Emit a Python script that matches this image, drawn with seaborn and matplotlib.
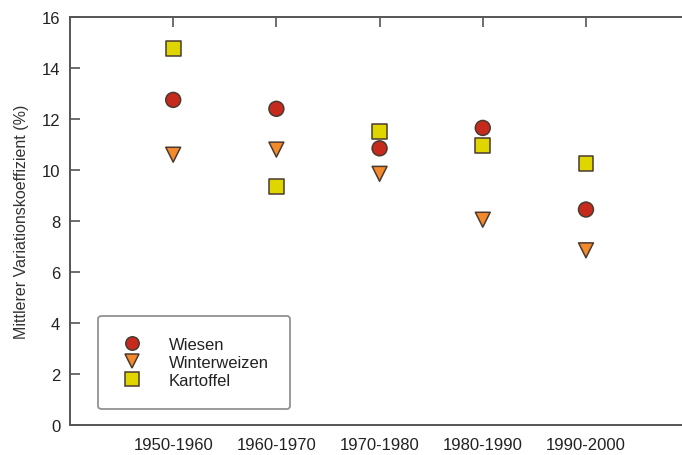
import pandas as pd
import seaborn as sns
import matplotlib.pyplot as plt

# decades on the x axis
decades = ['1950-1960', '1960-1970', '1970-1980', '1980-1990', '1990-2000']

# mean coefficient of variation (%) per crop
wiesen = [12.75, 12.4, 10.85, 11.65, 8.45]
winterweizen = [10.6, 10.8, 9.85, 8.05, 6.85]
kartoffel = [14.75, 9.35, 11.5, 10.95, 10.25]

crops = ['Wiesen', 'Winterweizen', 'Kartoffel']
colors = {'Wiesen': '#c62a1c', 'Winterweizen': '#f28a2c', 'Kartoffel': '#dfd600'}
markers = {'Wiesen': 'o', 'Winterweizen': 'v', 'Kartoffel': 's'}

df = pd.DataFrame({
    'pos': list(range(1, 6)) * 3,
    'wert': wiesen + winterweizen + kartoffel,
    'kultur': ['Wiesen'] * 5 + ['Winterweizen'] * 5 + ['Kartoffel'] * 5,
})

sns.set_style('white')
plt.rcParams['font.family'] = ['Liberation Sans', 'DejaVu Sans']

fig = plt.figure(figsize=(6.82, 4.56), dpi=100)
ax = fig.add_axes([70 / 682, 30 / 456, 614 / 682, 408 / 456])

sns.scatterplot(data=df, x='pos', y='wert', hue='kultur', style='kultur',
                hue_order=crops, style_order=crops, palette=colors,
                markers=markers, s=115, edgecolor='#4a3a30', linewidth=1.1,
                ax=ax, zorder=3)

ax.set_xlim(0, 5.95)
ax.set_ylim(0, 16)
ax.set_xticks(range(1, 6))
ax.set_xticklabels(decades)
ax.set_yticks(range(0, 17, 2))
ax.set_xlabel('')
ax.set_ylabel('Mittlerer Variationskoeffizient (%)', fontsize=11.5, color='#333333', labelpad=9)

for side in ['left', 'bottom', 'top']:
    ax.spines[side].set_color('#555555')
    ax.spines[side].set_linewidth(1.4)
ax.spines['right'].set_visible(False)

ax.tick_params(axis='both', direction='in', length=7, width=1.2, color='#555555',
               labelsize=12, labelcolor='#222222')
ax.tick_params(axis='x', top=True, pad=9)
ax.tick_params(axis='y', left=True, pad=7)

handles, labels = ax.get_legend_handles_labels()
leg = ax.legend(handles, labels, loc='lower left', bbox_to_anchor=(0.046, 0.039),
                frameon=True, fancybox=True, fontsize=12, borderpad=1.25,
                handletextpad=1.4, labelspacing=0.2, markerscale=0.9,
                handlelength=1.6, borderaxespad=0)
leg.get_frame().set_edgecolor('#777777')
leg.get_frame().set_linewidth(1.3)
for t in leg.get_texts():
    t.set_color('#222222')

fig.savefig('out.png', dpi=100)
